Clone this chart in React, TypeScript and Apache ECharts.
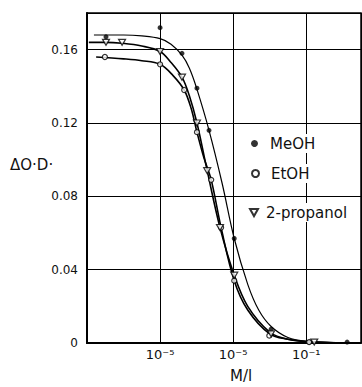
import React, { useEffect, useRef } from "react";
import * as echarts from "echarts";

// x values are log10(M/l)
const xTickValues = [-5, -3, -1];
const xTickLabels = ["10⁻⁵", "10⁻⁵", "10⁻¹"];

// MeOH measured points
const meohX = [-6.48, -5.0, -4.4, -3.99, -3.66, -2.97, -1.96, -0.92, 0.12];
const meohY = [0.167, 0.172, 0.158, 0.139, 0.116, 0.057, 0.0075, 0.0005, 0.0005];
// MeOH fitted curve
const meohCurveX = [-6.81, -6.0, -5.5, -5.0, -4.7, -4.4, -4.2, -4.0, -3.66, -3.3, -2.97, -2.6, -2.3, -1.96, -1.5, -1.0, 0.48];
const meohCurveY = [0.168, 0.168, 0.1675, 0.166, 0.163, 0.157, 0.15, 0.139, 0.116, 0.087, 0.057, 0.032, 0.018, 0.009, 0.003, 0.001, 0.0];

// EtOH measured points
const etohX = [-6.51, -5.0, -4.34, -3.99, -3.6, -3.33, -2.97, -2.01, -0.92];
const etohY = [0.156, 0.152, 0.138, 0.115, 0.089, 0.063, 0.034, 0.004, 0.0005];
const etohCurveX = [-6.75, -6.0, -5.5, -5.0, -4.65, -4.34, -4.15, -3.99, -3.8, -3.6, -3.33, -2.97, -2.6, -2.0, -1.5, -0.9, 0.48];
const etohCurveY = [0.156, 0.155, 0.154, 0.152, 0.146, 0.138, 0.128, 0.115, 0.101, 0.089, 0.063, 0.034, 0.018, 0.005, 0.002, 0.0005, 0.0];

// 2-propanol measured points
const propX = [-6.48, -6.04, -5.0, -4.4, -3.99, -3.71, -3.36, -2.97, -1.96, -0.78];
const propY = [0.164, 0.164, 0.159, 0.145, 0.12, 0.094, 0.063, 0.037, 0.005, 0.0005];
const propCurveX = [-6.95, -6.5, -6.04, -5.5, -5.0, -4.7, -4.4, -4.2, -3.99, -3.71, -3.36, -2.97, -2.6, -2.0, -1.5, -0.8, 0.48];
const propCurveY = [0.164, 0.164, 0.1635, 0.162, 0.159, 0.153, 0.145, 0.135, 0.12, 0.094, 0.063, 0.037, 0.02, 0.006, 0.002, 0.0005, 0.0];

const zip = (xs: number[], ys: number[]) => xs.map((x, i) => [x, ys[i]]);

const FONT = "DejaVu Sans";
const DOWN_TRIANGLE = "path://M0,0 L10,0 L5,9 Z";

export default function App() {
  const ref = useRef<HTMLDivElement>(null);
  useEffect(() => {
    if (!ref.current) return;
    const chart = echarts.init(ref.current, null, { renderer: "svg" });
    const curve = (name: string, xs: number[], ys: number[], w: number) => ({
      name,
      type: "line",
      data: zip(xs, ys),
      smooth: 0.35,
      showSymbol: false,
      symbol: "none",
      silent: true,
      lineStyle: { color: "#000", width: w },
      z: 3,
    });
    const legendBase = {
      itemGap: 0,
      padding: [2, 2, 2, 2],
      backgroundColor: "#fff",
    };
    chart.setOption({
      animation: false,
      backgroundColor: "#fff",
      grid: {
        left: 87,
        top: 13,
        right: 1,
        bottom: 44,
        show: true,
        borderColor: "#000",
        borderWidth: 1.5,
      },
      xAxis: {
        type: "value",
        min: -7,
        max: 0.5,
        interval: 2,
        axisLine: { show: true, onZero: false, lineStyle: { color: "#000", width: 2 } },
        axisTick: { show: false },
        splitLine: { show: true, lineStyle: { color: "#000", width: 1 } },
        axisLabel: {
          showMinLabel: false,
          showMaxLabel: false,
          margin: 5,
          color: "#111",
          fontFamily: FONT,
          fontSize: 13,
          formatter: (v: number) => {
            const i = xTickValues.findIndex((t) => Math.abs(t - v) < 1e-6);
            return i >= 0 ? xTickLabels[i] : "";
          },
        },
      },
      yAxis: {
        type: "value",
        min: 0,
        max: 0.18,
        interval: 0.04,
        axisLine: { show: true, onZero: false, lineStyle: { color: "#000", width: 2 } },
        axisTick: { show: false },
        splitLine: { show: true, lineStyle: { color: "#000", width: 1.2 } },
        axisLabel: {
          showMaxLabel: false,
          margin: 9,
          color: "#111",
          fontFamily: FONT,
          fontSize: 12,
          formatter: (v: number) => (v === 0 ? "0" : v.toFixed(2)),
        },
      },
      legend: [
        {
          ...legendBase,
          data: ["MeOH"],
          left: 249,
          top: 134,
          itemWidth: 7,
          itemHeight: 7,
          textStyle: { fontFamily: FONT, fontSize: 15, color: "#111", padding: [0, 0, 0, 7] },
        },
        {
          ...legendBase,
          data: ["EtOH"],
          left: 249,
          top: 164,
          itemWidth: 7,
          itemHeight: 7,
          textStyle: { fontFamily: FONT, fontSize: 15, color: "#111", padding: [0, 0, 0, 7] },
        },
        {
          ...legendBase,
          data: [{ name: "2-propanol", icon: DOWN_TRIANGLE }],
          left: 247,
          top: 203,
          itemWidth: 8,
          itemHeight: 8,
          textStyle: { fontFamily: FONT, fontSize: 15, color: "#111", padding: [0, 0, 0, 3] },
        },
      ],
      graphic: [
        {
          type: "text",
          left: 10,
          top: 157,
          style: { text: "ΔO·D·", font: `15px "${FONT}"`, fill: "#111" },
        },
        {
          type: "text",
          left: 230,
          top: 368,
          style: { text: "M/l", font: `15px "${FONT}"`, fill: "#111" },
        },
      ],
      series: [
        curve("meohCurve", meohCurveX, meohCurveY, 1.2),
        curve("etohCurve", etohCurveX, etohCurveY, 1.6),
        curve("propCurve", propCurveX, propCurveY, 1.6),
        {
          name: "MeOH",
          type: "scatter",
          data: zip(meohX, meohY),
          symbol: "circle",
          symbolSize: 5,
          itemStyle: { color: "#000" },
          z: 5,
        },
        {
          name: "EtOH",
          type: "scatter",
          data: zip(etohX, etohY),
          symbol: "circle",
          symbolSize: 5,
          itemStyle: { color: "#fff", borderColor: "#000", borderWidth: 1.2 },
          z: 5,
        },
        {
          name: "2-propanol",
          type: "scatter",
          data: zip(propX, propY),
          symbol: DOWN_TRIANGLE,
          symbolSize: [7, 6],
          itemStyle: { color: "#fff", borderColor: "#000", borderWidth: 1.2 },
          z: 5,
        },
      ],
    });
    return () => chart.dispose();
  }, []);
  return (
    <div
      ref={ref}
      style={{ position: "absolute", left: 0, top: 0, width: 362, height: 387 }}
    />
  );
}
